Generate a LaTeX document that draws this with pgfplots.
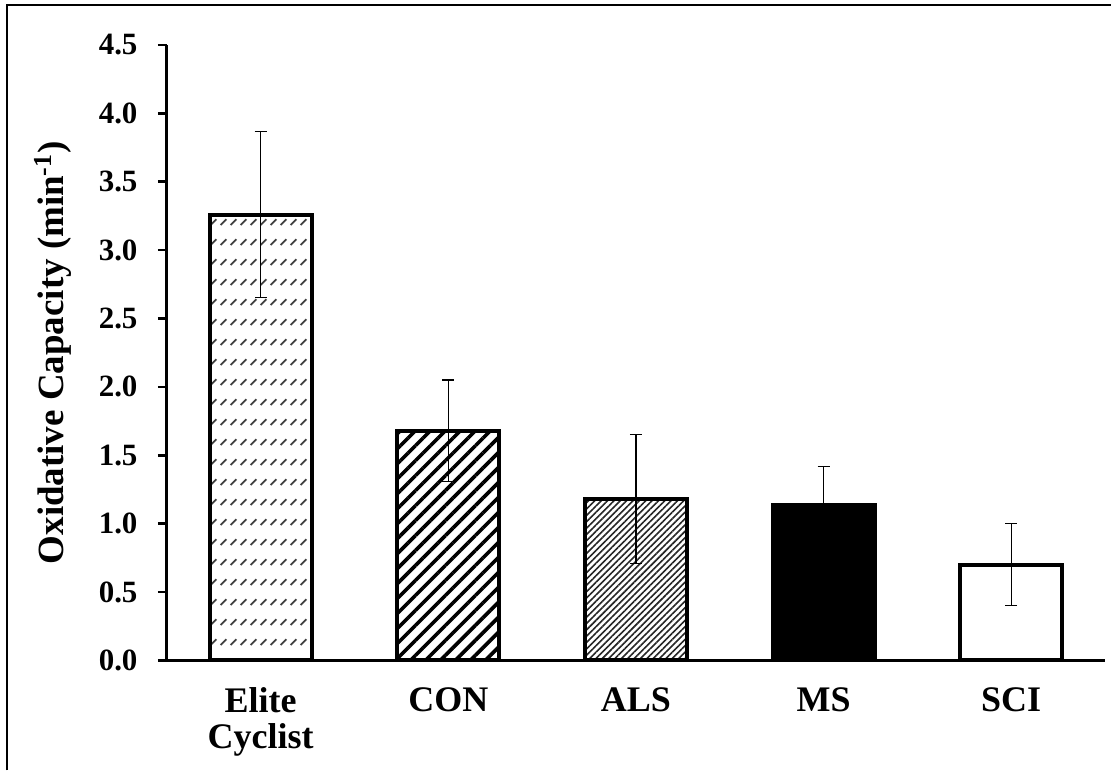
\documentclass[border=0pt]{standalone}
\usepackage{pgfplots}
\pgfplotsset{compat=1.18}
\usepackage{fontspec}
\setmainfont{Liberation Serif}
\usetikzlibrary{patterns.meta}
\tikzdeclarepattern{
  name=elitedash, type=uncolored,
  bottom left={(0pt,0pt)}, top right={(5pt,10pt)},
  tile size={(5pt,10pt)},
  code={\draw[line width=0.9pt] (0.8pt,3.5pt) -- (3.7pt,6.4pt);}
}
\begin{document}
\begin{tikzpicture}
\begin{axis}[
  scale only axis,
  width=469.5pt, height=308pt,
  xmin=-0.5, xmax=4.5, ymin=0, ymax=4.5,
  axis x line*=bottom, axis y line*=left,
  axis line style={line width=1.6pt, -},
  xtick={0,1,2,3,4},
  xticklabels={Elite\\Cyclist, CON, ALS, MS, SCI},
  major x tick style={draw=none},
  ytick={0,0.5,...,4.5},
  tick align=outside,
  major tick length=4.5pt,
  major y tick style={line width=1.3pt, black},
  /pgf/number format/.cd, fixed, fixed zerofill, precision=1, assume math mode=true,
  /pgfplots/.cd,
  yticklabel style={font=\bfseries\fontsize{15.5}{17}\selectfont, inner sep=0pt, xshift=-10pt},
  xticklabel style={font=\bfseries\fontsize{18}{18}\selectfont, align=center, inner sep=0pt, anchor=north, yshift=-9pt},
  ylabel={Oxidative Capacity (min\textsuperscript{-1})},
  ylabel style={font=\bfseries\fontsize{18.5}{20}\selectfont, at={(axis description cs:-0.1214,0.5)}, anchor=center, rotate=0},
  ybar, bar width=51pt, bar shift=0pt,
  error bars/y dir=both, error bars/y explicit,
  error bars/error bar style={line width=0.65pt, black},
  error bars/error mark options={line width=0.65pt, mark size=3pt, rotate=90},
  clip=false,
]
\addplot[draw=black, line width=2pt, pattern=elitedash, pattern color=black!75]
  coordinates {(0,3.26) +- (0,0.605)};
\addplot[draw=black, line width=2pt, pattern={Lines[angle=45,distance=5.3pt,line width=1.8pt]}, pattern color=black]
  coordinates {(1,1.68) +- (0,0.37)};
\addplot[draw=black, line width=2pt, pattern={Lines[angle=45,distance=2.25pt,line width=0.8pt]}, pattern color=black!85]
  coordinates {(2,1.18) +- (0,0.47)};
\addplot[draw=black, line width=2pt, fill=black]
  coordinates {(3,1.135) +- (0,0.285)};
\addplot[draw=black, line width=2pt, fill=white]
  coordinates {(4,0.70) +- (0,0.30)};
\coordinate (bl) at (axis description cs:-0.17785,-0.17857);
\coordinate (tr) at (axis description cs:1.00639,1.07305);
\coordinate (fl) at (axis description cs:-0.17040,-0.17857);
\coordinate (ft) at (axis description cs:-0.17040,1.06494);
\coordinate (fr) at (axis description cs:1.00639,1.06494);
\end{axis}
\draw[line width=1pt] (fl) -- (ft) -- (fr);
\path (bl) rectangle (tr);
\end{tikzpicture}
\end{document}
